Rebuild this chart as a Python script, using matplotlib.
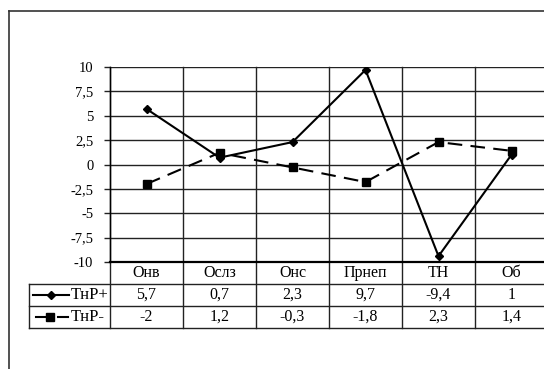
import numpy as np
import matplotlib
matplotlib.use("Agg")
import matplotlib.pyplot as plt
import matplotlib.transforms as mtransforms
from matplotlib.lines import Line2D
from matplotlib.ticker import FuncFormatter

plt.rcParams['font.family'] = ['Liberation Serif', 'DejaVu Serif']

# данные
cats = ['Онв', 'Ослз', 'Онс', 'Прнеп', 'ТН', 'Об']
tnr_plus = [5.7, 0.7, 2.3, 9.7, -9.4, 1]
tnr_minus = [-2, 1.2, -0.3, -1.8, 2.3, 1.4]
names = ['ТнР+', 'ТнР-']
yticks = [-10, -7.5, -5, -2.5, 0, 2.5, 5, 7.5, 10]

W, H = 544, 369
fig = plt.figure(figsize=(W / 100, H / 100), dpi=100)

# рамка всей диаграммы (справа и снизу обрезана)
fig.add_artist(Line2D([8.5 / W, 1], [1 - 11 / H, 1 - 11 / H], color='#333333', lw=1.2))
fig.add_artist(Line2D([8.5 / W, 8.5 / W], [1 - 11 / H, 0], color='#333333', lw=1.2))

left, right, top, bottom = 110, 548, 67, 262
colw = (right - left) / len(cats)
ax = fig.add_axes([left / W, 1 - bottom / H, (right - left) / W, (bottom - top) / H])

x = np.arange(len(cats))
ax.plot(x, tnr_minus, color='black', lw=1.5, ls=(0, (7, 4)), marker='s', ms=5.5, zorder=3)
ax.plot(x, tnr_plus, color='black', lw=1.5, marker='D', ms=4.5, zorder=4)

ax.set_xlim(-0.5, len(cats) - 0.5)
ax.set_ylim(-10, 10)
ax.set_yticks(yticks)
ax.yaxis.set_major_formatter(FuncFormatter(lambda v, p: f"{v:g}".replace('.', ',')))
ax.tick_params(axis='y', length=4, width=1, labelsize=10.5, pad=8, color='#222222')
ax.set_xticks([])
for s in ['top', 'right']:
    ax.spines[s].set_visible(False)
ax.spines['left'].set_linewidth(1.0)
ax.spines['bottom'].set_linewidth(1.6)
for yv in yticks[1:]:
    ax.axhline(yv, color='#222222', lw=1.0, zorder=1)

# таблица под графиком
trans = mtransforms.blended_transform_factory(ax.transData, ax.transAxes)
ph = bottom - top
row_h = 22 / ph
r1 = -row_h
r2 = -row_h * 2
r3 = -row_h * 3
leg_left = -0.5 - (left - 29) / colw

kw = dict(transform=trans, clip_on=False, color='#222222', lw=1.0)
for b in np.arange(-0.5, len(cats), 1.0):
    ax.add_line(Line2D([b, b], [1, r3], **kw))
ax.add_line(Line2D([leg_left, leg_left], [r1, r3], **kw))
for yy in [r1, r2, r3]:
    ax.add_line(Line2D([leg_left, len(cats) - 0.5], [yy, yy], **kw))

fs = 11.5
for i, c in enumerate(cats):
    ax.text(i, (0 + r1) / 2, c, transform=trans, ha='center', va='center', fontsize=fs)
    ax.text(i, (r1 + r2) / 2, f"{tnr_plus[i]:g}".replace('.', ','), transform=trans,
            ha='center', va='center', fontsize=fs)
    ax.text(i, (r2 + r3) / 2, f"{tnr_minus[i]:g}".replace('.', ','), transform=trans,
            ha='center', va='center', fontsize=fs)

# легенда в таблице
def px(p):
    # пиксели фигуры -> данные по x
    return -0.5 + (p - left) / colw

lk = dict(transform=trans, clip_on=False, color='black', lw=1.5)
y1 = (r1 + r2) / 2
y2 = (r2 + r3) / 2
ax.add_line(Line2D([px(33), px(69)], [y1, y1], **lk))
ax.add_line(Line2D([px(51)], [y1], marker='D', ms=4.5, ls='none', **lk))
ax.add_line(Line2D([px(36), px(50)], [y2, y2], **lk))
ax.add_line(Line2D([px(57.5), px(68)], [y2, y2], **lk))
ax.add_line(Line2D([px(50)], [y2], marker='s', ms=5.5, ls='none', **lk))
ax.text(px(70.5), y1, names[0], transform=trans, ha='left', va='center', fontsize=12)
ax.text(px(70.5), y2, names[1], transform=trans, ha='left', va='center', fontsize=12)

fig.savefig('out.png', dpi=100)
